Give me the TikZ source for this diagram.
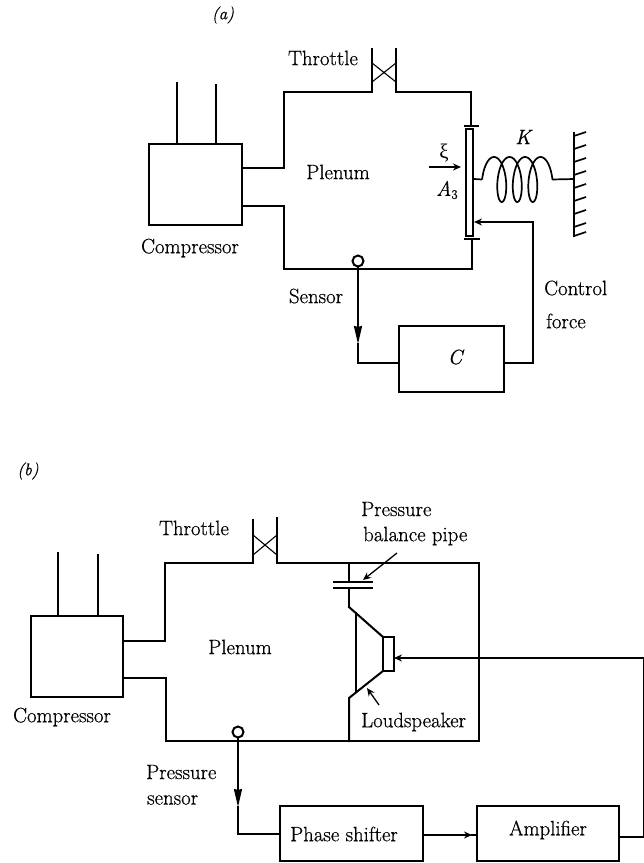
\documentclass[tikz,border=0pt]{standalone}
\usepackage{fontspec}
\setmainfont{Latin Modern Roman}[FakeBold=0.6]
\newfontfamily\grkfont{Liberation Serif}
\usetikzlibrary{arrows.meta}
\tikzset{
  wire/.style={line width=2pt,line join=miter,line cap=rect},
  thinwire/.style={line width=1.1pt},
  box/.style={draw,line width=2pt,inner sep=0pt,outer sep=0pt},
  lab/.style={inner sep=0pt,font=\fontsize{20.8}{24}\selectfont},
  tiplarge/.style={-{Stealth[length=18pt,width=8pt,inset=1pt]}},
  tipsmall/.style={-{Stealth[length=8pt,width=7pt]}},
  sensorring/.style={draw,circle,line width=2pt,minimum size=11pt,inner sep=0pt,outer sep=0pt,fill=white},
}
\begin{document}
\begin{tikzpicture}[x=1pt,y=-1pt]
\useasboundingbox (0,0) rectangle (644,863);
% ---------- (a)
\node[lab,font=\fontsize{17}{20}\selectfont\itshape] (la) at (223,15) {(a)};
\node[box,minimum width=93pt,minimum height=81pt] (compA) at (195.5,184.5) {};
\coordinate (ai1) at (177,83); \coordinate (ai2) at (216,85);
\draw[wire] (ai1) -- (ai1 |- compA.north);
\draw[wire] (ai2) -- (ai2 |- compA.north);
\coordinate (au1) at (242,168); \coordinate (au2) at (284,168); \coordinate (au3) at (284,92);
\coordinate (t1b) at (372,92); \coordinate (t1t) at (372,49);
\coordinate (t2b) at (396,92); \coordinate (t2t) at (396,49);
\coordinate (au4) at (471,92); \coordinate (au5) at (471,126);
\draw[wire] (au1) -- (au2) -- (au3) -- (t1b) -- (t1t);
\draw[wire] (t2t) -- (t2b) -- (au4) -- (au5);
\draw[thinwire] (372,63) -- (396,82) (396,63) -- (372,82);
\coordinate (al1) at (242,206); \coordinate (al2) at (284,206); \coordinate (al3) at (284,269);
\coordinate (al4) at (472,269); \coordinate (al5) at (472,239);
\draw[wire] (al1) -- (al2) -- (al3) -- (al4) -- (al5);
\draw[line width=1.8pt] (464,126) -- (479,126) (464,239) -- (480,239);
\node[draw,line width=1.8pt,inner sep=0pt,outer sep=0pt,minimum width=7pt,minimum height=107pt] (plate) at (469.5,182.5) {};
\node[sensorring] (ringA) at (358,261) {};
\node[box,minimum width=105pt,minimum height=66pt] (ctrl) at (451.5,359) {};
\coordinate (s2) at (358,344); \coordinate (s3) at (358,363);
\draw[wire,tiplarge] (ringA.south) -- (s2);
\draw[wire] (s2) -- (s3) -- (s3 -| ctrl.west);
\coordinate (f1) at (533,363); \coordinate (f2) at (533,222); \coordinate (f3) at (490,222); \coordinate (f4) at (474,222);
\draw[wire] (f1 -| ctrl.east) -- (f1) -- (f2) -- (f3);
\draw[wire,tipsmall] (f3) -- (f4);
% spring
\coordinate (sp0) at (474,179); \coordinate (sp1) at (482,179.5); \coordinate (sp3) at (574,179);
\draw[line width=1.7pt,line join=round] (sp0) -- (sp1)
  plot[domain=-1.5708:20.42,samples=240,smooth] ({494+2.47*\x+8*sin(\x r)},{179.5-22.5*cos(\x r)})
  -- (sp3);
% wall
\coordinate (w1) at (574,133); \coordinate (w2) at (574,236);
\draw[wire] (w1) -- (w2);
\foreach \yy in {136,149,162,175,188,201,214,227,236}
  \draw[line width=1.6pt] (574,\yy) -- (586,\yy-4);
\coordinate (xi1) at (429,167); \coordinate (xi2) at (461,167);
\draw[line width=1.2pt,tipsmall] (xi1) -- (xi2);
\node[lab] (lxi) at (444,153) {\grkfont ξ};
\node[lab] (la3) at (447,190) {\textit{A}\raisebox{-3pt}{\fontsize{13}{15}\selectfont 3}};
\node[lab] (lk) at (524,137) {\textit{K}};
\node[lab] (lt1) at (323,58) {Throttle};
\node[lab] (lp1) at (338,172) {Plenum};
\node[lab] (lc1) at (190,248) {Compressor};
\node[lab] (ls1) at (316,296) {Sensor};
\node[lab,anchor=west] (lcf1) at (544,288) {Control};
\node[lab,anchor=west] (lcf2) at (546,321) {force};
\node[lab] (lC) at (456,357) {\textit{C}};
% ---------- (b)
\node[lab,font=\fontsize{17}{20}\selectfont\itshape] (lb) at (28,471) {(b)};
\node[box,minimum width=92pt,minimum height=81pt] (compB) at (77,656.5) {};
\coordinate (bi1) at (58,553); \coordinate (bi2) at (98,555);
\draw[wire] (bi1) -- (bi1 |- compB.north);
\draw[wire] (bi2) -- (bi2 |- compB.north);
\coordinate (bu1) at (123,641); \coordinate (bu2) at (165,641); \coordinate (bu3) at (165,563);
\coordinate (bt1b) at (253,563); \coordinate (bt1t) at (253,520);
\coordinate (bt2b) at (277,563); \coordinate (bt2t) at (277,518);
\coordinate (bu4) at (479,563); \coordinate (bu5) at (479,741);
\draw[wire] (bu1) -- (bu2) -- (bu3) -- (bt1b) -- (bt1t);
\draw[wire] (bt2t) -- (bt2b) -- (bu4) -- (bu5);
\draw[thinwire] (253,535) -- (277,555) (277,535) -- (253,555);
\coordinate (bl1) at (123,678); \coordinate (bl2) at (166,678); \coordinate (bl3) at (166,741);
\draw[wire] (bl1) -- (bl2) -- (bl3) -- (bu5);
% pipe
\coordinate (p0) at (349,563); \coordinate (p1) at (349,582); \coordinate (p2) at (349,588); \coordinate (p3) at (349,607);
\draw[wire] (p0) -- (p1) (p2) -- (p3);
\draw[thinwire] (333,582) -- (373,582) (333,588) -- (373,588);
% speaker
\node[box,minimum width=11pt,minimum height=34pt] (spk) at (388.5,654) {};
\coordinate (p4) at (349,698); \coordinate (p5) at (349,741);
\draw[wire] (p3) -- (spk.north west);
\draw[wire] (spk.south west) -- (p4) -- (p5);
\draw[thinwire] (356,612) -- (356,693);
% signal
\node[sensorring] (ringB) at (238,732) {};
\node[box,minimum width=143pt,minimum height=55pt] (phase) at (351.5,833.5) {};
\node[box,minimum width=142pt,minimum height=55pt] (amp) at (548,833.5) {};
\coordinate (q2) at (238,807); \coordinate (q3) at (238,834);
\draw[wire,tiplarge] (ringB.south) -- (q2);
\draw[wire] (q2) -- (q3) -- (q3 -| phase.west);
\coordinate (r1) at (423,835); \coordinate (r2) at (472,835);
\draw[wire,tipsmall] (phase.east |- r1) -- (r2);
\draw[wire] (r2) -- (r2 -| amp.west);
\coordinate (v1) at (643,837); \coordinate (v2) at (643,658); \coordinate (v3) at (415,658); \coordinate (v4) at (394,658);
\draw[wire] (amp.east |- v1) -- (v1);
\draw[line width=1pt] (v1) -- (v2);
\draw[wire] (v2) -- (v3);
\draw[wire,tipsmall] (v3) -- (spk.east |- v4);
% labels
\coordinate (pa1) at (397,553); \coordinate (pa2) at (363,580);
\draw[line width=1.3pt,tipsmall] (pa1) -- (pa2);
\coordinate (la1) at (379,705); \coordinate (la2) at (367,688);
\draw[line width=1.3pt,tipsmall] (la1) -- (la2);
\node[lab] (lt2) at (194,528) {Throttle};
\node[lab] (lp2) at (240,647) {Plenum};
\node[lab] (lc2) at (62,717) {Compressor};
\node[lab,anchor=west] (lpb1) at (361,509) {Pressure};
\node[lab,anchor=west] (lpb2) at (363,536) {balance pipe};
\node[lab,anchor=west] (lls) at (361,722) {Loudspeaker};
\node[lab,anchor=west] (lps1) at (146,772) {Pressure};
\node[lab,anchor=west] (lps2) at (147,800) {sensor};
\node[lab] (lph) at (344,834) {Phase shifter};
\node[lab] (lam) at (548,830) {Amplifier};
\end{tikzpicture}
\end{document}
